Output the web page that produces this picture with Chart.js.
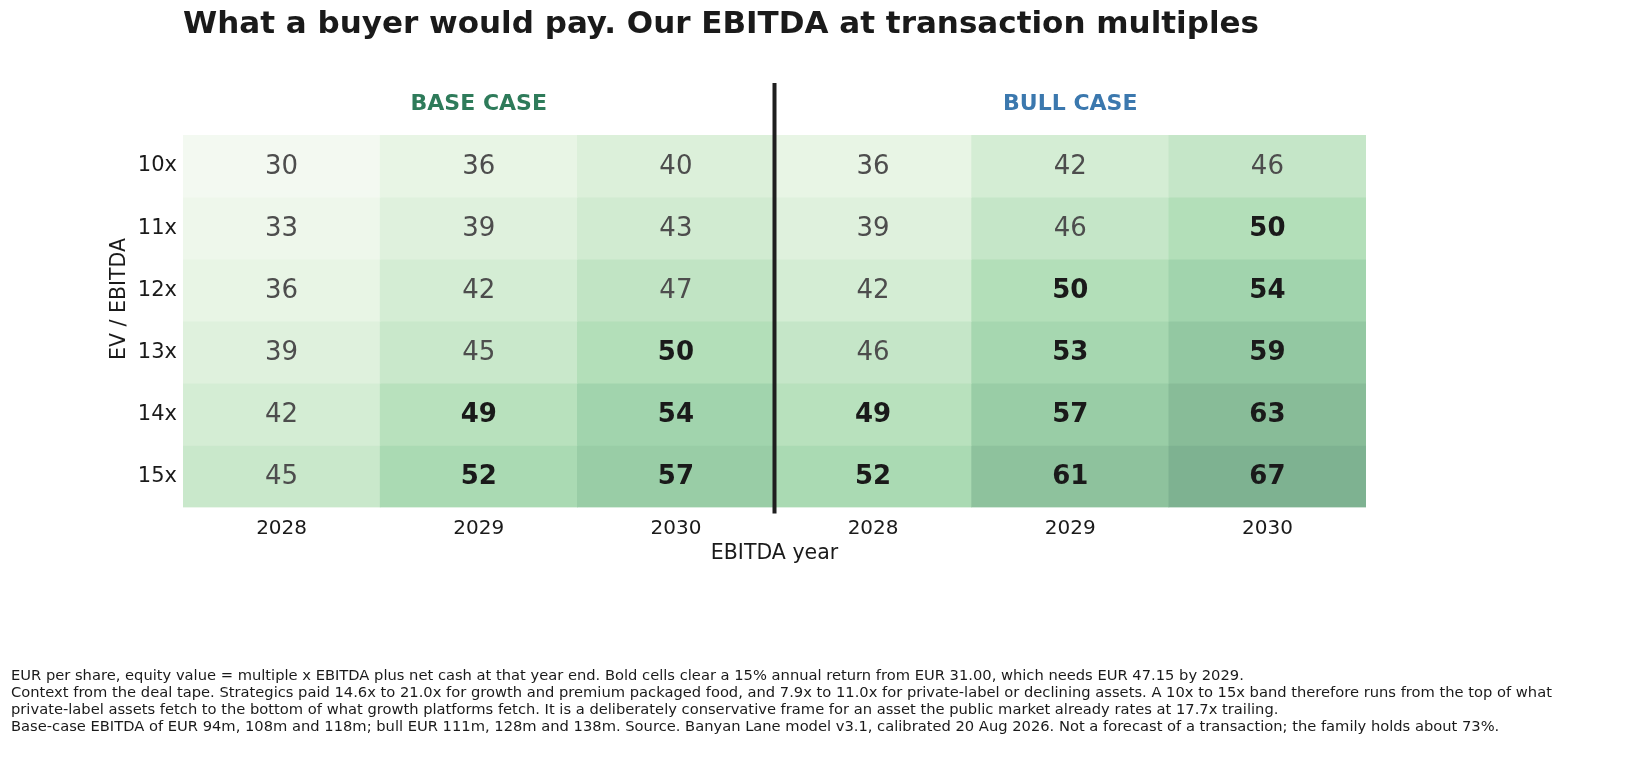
<!DOCTYPE html>
<html lang="en">
<head>
  <meta charset="UTF-8">
  <title>What a buyer would pay</title>
  <script src="https://cdn.jsdelivr.net/npm/chart.js@4.4.1/dist/chart.umd.min.js"></script>
  <style>
    body {
      margin: 0;
      background: #fff;
      font-family: "DejaVu Sans", sans-serif;
      color: #1a1a1a;
    }
    .page {
      position: relative;
      width: 1628px;
      height: 771px;
      overflow: hidden;
    }
    .chart-box {
      position: absolute;
      left: 0;
      top: 0;
      width: 1628px;
      height: 771px;
    }
    h1 {
      position: absolute;
      left: 183px;
      top: 4px;
      margin: 0;
      font-size: 31px;
      font-weight: bold;
      color: #1a1a1a;
      white-space: nowrap;
    }
    .note {
      position: absolute;
      left: 11px;
      top: 666px;
      font-size: 14.7px;
      line-height: 17px;
      color: #1a1a1a;
      white-space: nowrap;
    }
  </style>
</head>
<body>
  <div class="page">
    <div class="chart-box"><canvas id="heat"></canvas></div>
    <h1>What a buyer would pay. Our EBITDA at transaction multiples</h1>
    <div class="note">
      EUR per share, equity value = multiple x EBITDA plus net cash at that year end. Bold cells clear a 15% annual return from EUR 31.00, which needs EUR 47.15 by 2029.<br>
      Context from the deal tape. Strategics paid 14.6x to 21.0x for growth and premium packaged food, and 7.9x to 11.0x for private-label or declining assets. A 10x to 15x band therefore runs from the top of what<br>
      private-label assets fetch to the bottom of what growth platforms fetch. It is a deliberately conservative frame for an asset the public market already rates at 17.7x trailing.<br>
      Base-case EBITDA of EUR 94m, 108m and 118m; bull EUR 111m, 128m and 138m. Source. Banyan Lane model v3.1, calibrated 20 Aug 2026. Not a forecast of a transaction; the family holds about 73%.
    </div>
  </div>
  <script>
    // rows = EV/EBITDA multiple, columns = EBITDA year (base case then bull case)
    const rowLabels = ['10x', '11x', '12x', '13x', '14x', '15x'];
    const yearLabels = ['2028', '2029', '2030', '2028', '2029', '2030'];
    const caseLabels = ['BASE CASE', 'BULL CASE'];
    const baseValues = [
      [30, 36, 40],
      [33, 39, 43],
      [36, 42, 47],
      [39, 45, 50],
      [42, 49, 54],
      [45, 52, 57]
    ];
    const bullValues = [
      [36, 42, 46],
      [39, 46, 50],
      [42, 50, 54],
      [46, 53, 59],
      [49, 57, 63],
      [52, 61, 67]
    ];
    const hurdle = 47.15; // EUR needed by 2029 for a 15% return

    // colour ramp (value -> rgb), light to dark green
    const ramp = [
      [30, [243, 249, 241]],
      [36, [232, 245, 229]],
      [40, [220, 240, 218]],
      [46, [197, 230, 200]],
      [50, [179, 223, 185]],
      [54, [161, 212, 173]],
      [59, [147, 200, 162]],
      [63, [136, 188, 152]],
      [67, [126, 178, 145]]
    ];
    function cellColor(v) {
      for (let i = 1; i < ramp.length; i++) {
        if (v <= ramp[i][0]) {
          const [v0, c0] = ramp[i - 1];
          const [v1, c1] = ramp[i];
          const t = (v - v0) / (v1 - v0);
          const c = c0.map((a, k) => Math.round(a + (c1[k] - a) * t));
          return `rgb(${c[0]},${c[1]},${c[2]})`;
        }
      }
      const c = ramp[ramp.length - 1][1];
      return `rgb(${c[0]},${c[1]},${c[2]})`;
    }

    const cellValues = rowLabels.map((_, r) => baseValues[r].concat(bullValues[r]));

    const datasets = rowLabels.map((label, r) => ({
      label: label,
      data: yearLabels.map(() => 1), // each cell is one row tall
      cellValues: cellValues[r],
      backgroundColor: cellValues[r].map(cellColor),
      borderWidth: 0,
      barPercentage: 1,
      categoryPercentage: 1,
      stack: 'grid'
    }));

    // cell numbers, case headers, divider and y title
    const heatPlugin = {
      id: 'heatDecor',
      afterDatasetsDraw(chart) {
        const ctx = chart.ctx;
        const area = chart.chartArea;
        const x = chart.scales.x;
        ctx.save();
        ctx.textAlign = 'center';
        ctx.textBaseline = 'middle';
        chart.data.datasets.forEach((ds, r) => {
          chart.getDatasetMeta(r).data.forEach((bar, c) => {
            const v = ds.cellValues[c];
            const bold = v > hurdle;
            ctx.font = (bold ? 'bold ' : '') + '26px "DejaVu Sans"';
            ctx.fillStyle = bold ? '#1a1a1a' : '#4d4d4d';
            const p = bar.getProps(['x', 'y', 'base'], true);
            ctx.fillText(String(v), p.x, (p.y + p.base) / 2 + 1);
          });
        });

        // divider between the two cases
        const xd = x.getPixelForValue(2.5);
        ctx.strokeStyle = '#1f1f1f';
        ctx.lineWidth = 4;
        ctx.beginPath();
        ctx.moveTo(xd, area.top - 52);
        ctx.lineTo(xd, area.bottom + 6);
        ctx.stroke();

        // case headers
        ctx.font = 'bold 22px "DejaVu Sans"';
        ctx.fillStyle = '#2e7b5a';
        ctx.fillText(caseLabels[0], x.getPixelForValue(1), area.top - 31);
        ctx.fillStyle = '#3b78ae';
        ctx.fillText(caseLabels[1], x.getPixelForValue(4), area.top - 31);

        // y axis title
        ctx.translate(120, 299);
        ctx.rotate(-Math.PI / 2);
        ctx.font = '20.5px "DejaVu Sans"';
        ctx.fillStyle = '#1a1a1a';
        ctx.fillText('EV / EBITDA', 0, 0);
        ctx.restore();
      }
    };

    new Chart(document.getElementById('heat'), {
      type: 'bar',
      data: { labels: yearLabels, datasets: datasets },
      plugins: [heatPlugin],
      options: {
        responsive: true,
        maintainAspectRatio: false,
        animation: false,
        layout: { padding: { left: 106, right: 262, top: 135, bottom: 205 } },
        plugins: {
          legend: { display: false },
          tooltip: { enabled: false },
          title: { display: false }
        },
        scales: {
          x: {
            stacked: true,
            grid: { display: false, drawTicks: false },
            border: { display: false },
            ticks: {
              color: '#1a1a1a',
              padding: 9,
              font: { family: 'DejaVu Sans', size: 20 }
            },
            title: {
              display: true,
              text: 'EBITDA year',
              color: '#1a1a1a',
              padding: { top: -8, bottom: 0 },
              font: { family: 'DejaVu Sans', size: 20.5 }
            }
          },
          y: {
            stacked: true,
            reverse: true,
            min: 0,
            max: rowLabels.length,
            grid: { display: false, drawTicks: false },
            border: { display: false },
            afterBuildTicks(scale) {
              scale.ticks = rowLabels.map((_, i) => ({ value: i + 0.5 }));
            },
            afterFit(scale) {
              scale.width = 77;
            },
            ticks: {
              color: '#1a1a1a',
              padding: 6,
              font: { family: 'DejaVu Sans', size: 21 },
              callback: (v) => rowLabels[Math.floor(v)]
            }
          }
        }
      }
    });
  </script>
</body>
</html>
